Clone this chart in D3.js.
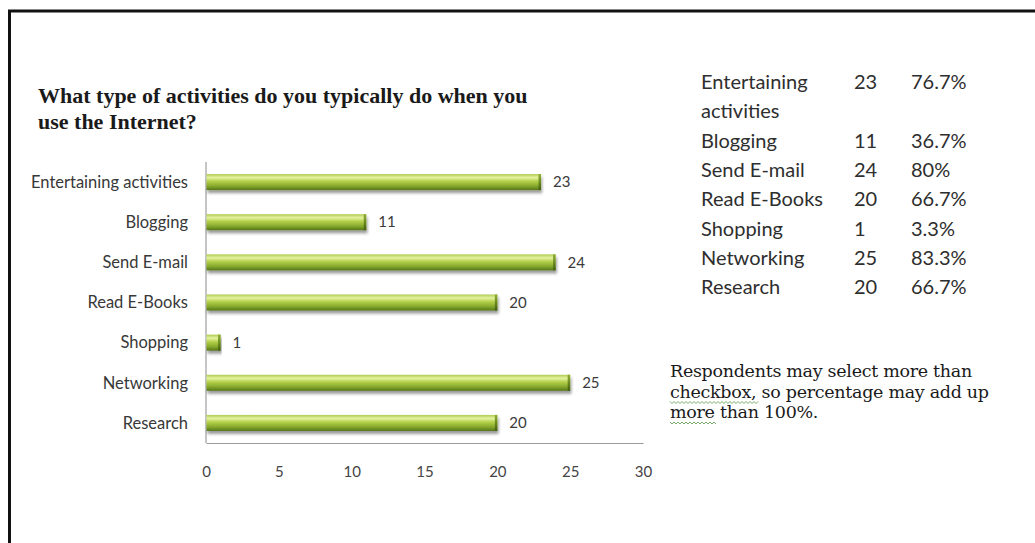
<!DOCTYPE html>
<html>
<head>
<meta charset="utf-8">
<script src="https://cdn.jsdelivr.net/npm/d3@7/dist/d3.min.js"></script>
<style>
  html, body { margin: 0; padding: 0; background: #fff; }
  svg { display: block; }
</style>
</head>
<body>
<svg id="chart" width="1035" height="543"></svg>
<script>
// Survey answers: activities done on the Internet
const categories = ["Entertaining activities", "Blogging", "Send E-mail", "Read E-Books", "Shopping", "Networking", "Research"];
const counts = [23, 11, 24, 20, 1, 25, 20];
const percents = ["76.7%", "36.7%", "80%", "66.7%", "3.3%", "83.3%", "66.7%"];
const tableNames = [["Entertaining", "activities"], ["Blogging"], ["Send E-mail"], ["Read E-Books"], ["Shopping"], ["Networking"], ["Research"]];
const xTicks = [0, 5, 10, 15, 20, 25, 30];
const titleLines = ["What type of activities do you typically do when you", "use the Internet?"];
const noteLines = ["Respondents may select more than", "checkbox, so percentage may add up", "more than 100%."];

const svg = d3.select("#chart");
const sans = "Lato, 'Open Sans', sans-serif";
const serif = "'Liberation Serif', 'DejaVu Serif', serif";
const noteSerif = "'DejaVu Serif', serif";

svg.append("rect").attr("width", 1035).attr("height", 543).attr("fill", "#fff");

// frame
svg.append("line").attr("x1", 8).attr("x2", 1035).attr("y1", 11).attr("y2", 11)
  .attr("stroke", "#111").attr("stroke-width", 3);
svg.append("line").attr("x1", 9.5).attr("x2", 9.5).attr("y1", 10).attr("y2", 543)
  .attr("stroke", "#111").attr("stroke-width", 3);

// gradients & shadow
const defs = svg.append("defs");
const grad = defs.append("linearGradient").attr("id", "barGrad")
  .attr("x1", 0).attr("x2", 0).attr("y1", 0).attr("y2", 1);
[["0%", "#b0cb50"], ["22%", "#e4f2a0"], ["45%", "#b4d04a"], ["75%", "#86a82c"], ["100%", "#56761a"]]
  .forEach(([o, c]) => grad.append("stop").attr("offset", o).attr("stop-color", c));
const capGrad = defs.append("linearGradient").attr("id", "capGrad")
  .attr("x1", 0).attr("x2", 0).attr("y1", 0).attr("y2", 1);
[["0%", "#8fae35"], ["50%", "#6b8b22"], ["100%", "#445f10"]]
  .forEach(([o, c]) => capGrad.append("stop").attr("offset", o).attr("stop-color", c));
const shadow = defs.append("filter").attr("id", "shadow")
  .attr("x", "-5%").attr("y", "-40%").attr("width", "110%").attr("height", "200%");
shadow.append("feGaussianBlur").attr("in", "SourceAlpha").attr("stdDeviation", 1.8).attr("result", "b");
shadow.append("feOffset").attr("in", "b").attr("dx", 1).attr("dy", 3).attr("result", "o");
shadow.append("feComponentTransfer").attr("in", "o").attr("result", "s")
  .append("feFuncA").attr("type", "linear").attr("slope", 0.4);
const merge = shadow.append("feMerge");
merge.append("feMergeNode").attr("in", "s");
merge.append("feMergeNode").attr("in", "SourceGraphic");

// title
svg.append("g").selectAll("text").data(titleLines).join("text")
  .attr("x", 38).attr("y", (d, i) => 103 + i * 26)
  .attr("font-family", serif).attr("font-weight", "bold").attr("font-size", 22)
  .attr("fill", "#1a1a1a").text(d => d);

// scales
const x = d3.scaleLinear().domain([0, 30]).range([206, 643]);
const y = d3.scaleBand().domain(categories).range([162, 443]).paddingInner(0.6).paddingOuter(0.3);

// axes lines
svg.append("line").attr("x1", x(0)).attr("x2", x(0)).attr("y1", 162).attr("y2", 443)
  .attr("stroke", "#8a8a8a").attr("stroke-width", 1);
const xAxis = svg.append("g").attr("transform", "translate(0,443)")
  .call(d3.axisBottom(x).tickValues(xTicks).tickSize(0).tickPadding(23));
xAxis.select(".domain").attr("stroke", "#9a9a9a");
xAxis.selectAll("text").attr("font-family", sans).attr("font-size", 15).attr("fill", "#444");

// category labels
svg.append("g").selectAll("text").data(categories).join("text")
  .attr("x", 188).attr("y", d => y(d) + y.bandwidth() / 2)
  .attr("dy", "0.35em").attr("text-anchor", "end")
  .attr("font-family", sans).attr("font-size", 16.5).attr("fill", "#383838").text(d => d);

// bars
const bars = svg.append("g").selectAll("g").data(categories).join("g")
  .attr("filter", "url(#shadow)");
bars.append("rect")
  .attr("x", x(0) + 0.5).attr("y", d => y(d))
  .attr("width", (d, i) => x(counts[i]) - x(0) - 0.5).attr("height", y.bandwidth())
  .attr("fill", "url(#barGrad)");
bars.append("rect")
  .attr("x", (d, i) => x(counts[i]) - 2.5).attr("y", d => y(d))
  .attr("width", 2.5).attr("height", y.bandwidth())
  .attr("fill", "url(#capGrad)");

// value labels
svg.append("g").selectAll("text").data(categories).join("text")
  .attr("x", (d, i) => x(counts[i]) + 12).attr("y", d => y(d) + y.bandwidth() / 2)
  .attr("dy", "0.35em")
  .attr("font-family", sans).attr("font-size", 15).attr("fill", "#3a3a3a")
  .text((d, i) => counts[i]);

// summary table
const rowCenters = [];
let yy = 82;
tableNames.forEach(lines => { rowCenters.push(yy); yy += 29.3 * lines.length; });
const table = svg.append("g").attr("font-family", sans).attr("font-size", 20).attr("fill", "#2e2e2e");
tableNames.forEach((lines, i) => {
  lines.forEach((t, j) => {
    table.append("text").attr("x", 701).attr("y", rowCenters[i] + j * 29.3).attr("dy", "0.35em").text(t);
  });
  table.append("text").attr("x", 854).attr("y", rowCenters[i]).attr("dy", "0.35em").text(counts[i]);
  table.append("text").attr("x", 911).attr("y", rowCenters[i]).attr("dy", "0.35em").text(percents[i]);
});

// note with spell-check squiggles
const note = svg.append("g").attr("font-family", noteSerif).attr("font-size", 17.5)
  .attr("letter-spacing", -0.3).attr("fill", "#1a1a1a");
const noteText = noteLines.map((t, i) =>
  note.append("text").attr("x", 670).attr("y", 377 + i * 20.5).text(t));
function squiggle(textSel, word) {
  const node = textSel.node();
  const str = textSel.text();
  const start = str.indexOf(word);
  const x0 = 670 + (start > 0 ? node.getSubStringLength(0, start) : 0);
  const w = node.getSubStringLength(start, word.length);
  const yb = +textSel.attr("y") + 4;
  let p = `M${x0},${yb}`;
  for (let k = 0, sx = x0; sx < x0 + w; k++, sx += 2) p += `L${sx + 2},${yb + (k % 2 ? 0 : 2)}`;
  note.append("path").attr("d", p).attr("fill", "none").attr("stroke", "#6aa05a").attr("stroke-width", 0.9);
}
squiggle(noteText[1], "checkbox,");
squiggle(noteText[2], "more");
</script>
</body>
</html>
